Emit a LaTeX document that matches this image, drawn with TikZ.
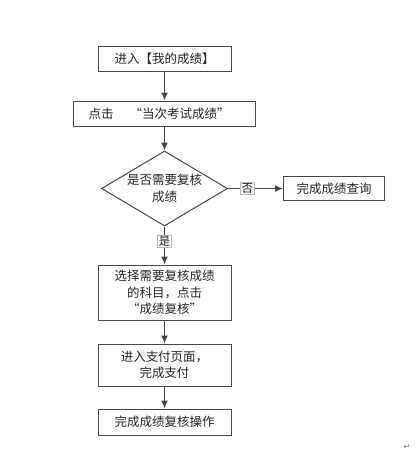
\documentclass[tikz,border=0pt]{standalone}
\usepackage{fontspec}
\newfontfamily\cjk{Noto Sans CJK SC}
\newfontfamily\symb{DejaVu Sans}
\usetikzlibrary{arrows.meta,%
                positioning,%
                shapes.geometric}
\definecolor{flow-gray}{RGB}{70,70,70}
\definecolor{text-gray}{RGB}{35,35,35}
\definecolor{label-gray}{RGB}{185,185,185}
\tikzset{
  stepbox/.style={draw=flow-gray, line width=1pt, minimum width=133pt, inner sep=0pt,
    align=center, text=text-gray, font=\cjk\fontsize{12.5pt}{16.5pt}\selectfont},
  decision/.style={stepbox, diamond, aspect=1.68, minimum width=126pt, minimum height=75pt},
  choice/.style={draw=label-gray, line width=0.8pt, fill=white, inner sep=1pt,
    text=text-gray, font=\cjk\fontsize{11.5pt}{13pt}\selectfont},
  flowarrow/.style={draw=flow-gray, line width=1.2pt, -{Latex[length=8pt,width=7pt]}},
}
\begin{document}
\begin{tikzpicture}[x=1pt,y=-1pt]
  \useasboundingbox (0,0) rectangle (419,472);

  % main column
  \node[stepbox, minimum height=25pt] (enter) at (164.5,58.5) {进入【我的成绩】};
  \node[stepbox, minimum width=182pt, minimum height=25pt, text width=152pt, align=left,
    below=29pt of enter] (click) {点击\hspace{16pt}“当次考试成绩”};
  \node[decision, below=24pt of click] (check) {是否需要复核\\成绩};
  \node[stepbox, minimum height=55pt, below=38pt of check] (choose) {选择需要复核成绩\\的科目，点击\\“成绩复核”};
  \node[stepbox, minimum height=42pt, below=23pt of choose] (pay) {进入支付页面，\\完成支付};
  \node[stepbox, minimum height=26pt, below=22pt of pay] (finish) {完成成绩复核操作};

  % side branch
  \node[stepbox, minimum width=101pt, minimum height=24pt, right=55pt of check] (query) {完成成绩查询};

  \draw[flowarrow] (enter) -- (click);
  \draw[flowarrow] (click) -- (check);
  \draw[flowarrow] (check) -- node[choice, pos=0.35] (no) {否} (query);
  \draw[flowarrow] (check) -- node[choice, pos=0.4] (yes) {是} (choose);
  \draw[flowarrow] (choose) -- (pay);
  \draw[flowarrow] (pay) -- (finish);

  % paragraph mark
  \node[text=black!55, font=\symb\fontsize{8pt}{9pt}\selectfont] (mark) at (407,447) {↵};
\end{tikzpicture}
\end{document}
